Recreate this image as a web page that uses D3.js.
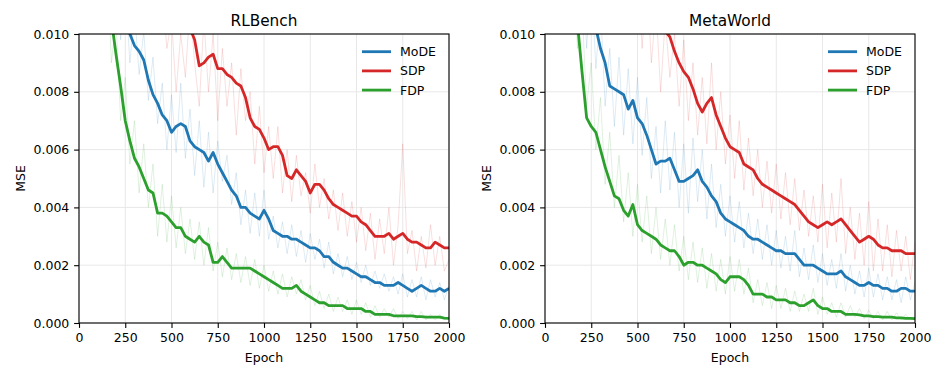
<!DOCTYPE html>
<html>
<head>
<meta charset="utf-8">
<script src="https://cdn.jsdelivr.net/npm/d3@7"></script>
<style>
body { margin: 0; background: #fff; }
text { font-family: "DejaVu Sans", sans-serif; fill: #000; }
</style>
</head>
<body>
<div id="view"></div>
<script>
var width = 947, height = 379;

// x grid of the curves, one point every 25 epochs
var epochs = d3.range(0, 2001, 25);
var seriesNames = ["MoDE", "SDP", "FDP"];
var colors = ["#1f77b4", "#d62728", "#2ca02c"];
var xTicks = [0, 250, 500, 750, 1000, 1250, 1500, 1750, 2000];
var yTicks = [0, 0.002, 0.004, 0.006, 0.008, 0.010];

// RLBench, smoothed
var rlbMode = [
	0.0165,0.0158,0.0150,0.0143,0.0136,0.0129,0.0123,0.0117,0.0112,0.0107,
	0.0103,0.0100,0.0096,0.0094,0.0091,0.0084,0.0079,0.0076,0.0072,0.0070,
	0.0066,0.0068,0.0069,0.0068,0.0063,0.0061,0.0060,0.0059,0.0056,0.0059,
	0.0055,0.0052,0.0049,0.0046,0.0044,0.0040,0.0040,0.0038,0.0037,0.0036,
	0.0039,0.0036,0.0032,0.0031,0.0030,0.0030,0.0029,0.0029,0.0028,0.0027,
	0.0026,0.0026,0.0025,0.0023,0.0023,0.0021,0.0020,0.0019,0.0019,0.0018,
	0.0017,0.0016,0.0016,0.0015,0.0014,0.0014,0.0013,0.0013,0.0013,0.0014,
	0.0013,0.0012,0.0011,0.0012,0.0013,0.0012,0.0011,0.0011,0.0012,0.0011,
	0.0012];
var rlbSdp = [
	0.0195,0.0190,0.0185,0.0180,0.0175,0.0170,0.0165,0.0160,0.0155,0.0150,
	0.0146,0.0142,0.0138,0.0134,0.0130,0.0126,0.0122,0.0119,0.0116,0.0113,
	0.0111,0.0109,0.0107,0.0105,0.0102,0.0098,0.0089,0.0090,0.0092,0.0093,
	0.0088,0.0088,0.0086,0.0085,0.0083,0.0082,0.0078,0.0071,0.0068,0.0067,
	0.0064,0.0060,0.0061,0.0061,0.0058,0.0051,0.0050,0.0053,0.0051,0.0049,
	0.0045,0.0048,0.0048,0.0046,0.0043,0.0041,0.0040,0.0039,0.0038,0.0037,
	0.0037,0.0035,0.0034,0.0032,0.0030,0.0030,0.0030,0.0031,0.0029,0.0030,
	0.0031,0.0029,0.0028,0.0028,0.0027,0.0026,0.0026,0.0028,0.0027,0.0026,
	0.0026];
var rlbFdp = [
	0.0180,0.0172,0.0163,0.0152,0.0140,0.0128,0.0116,0.0105,0.0093,0.0082,
	0.0070,0.0063,0.0057,0.0054,0.0050,0.0046,0.0045,0.0038,0.0038,0.0037,
	0.0035,0.0033,0.0033,0.0030,0.0029,0.0028,0.0030,0.0028,0.0027,0.0021,
	0.0021,0.0023,0.0021,0.0019,0.0019,0.0019,0.0019,0.0019,0.0018,0.0017,
	0.0016,0.0015,0.0014,0.0013,0.0012,0.0012,0.0012,0.0013,0.0011,0.0010,
	0.0009,0.0008,0.0007,0.0007,0.0006,0.0006,0.0006,0.0006,0.0005,0.0005,
	0.0005,0.0005,0.0004,0.0004,0.0003,0.0003,0.0003,0.0003,0.00025,0.00025,
	0.00025,0.00025,0.00025,0.00022,0.00022,0.0002,0.0002,0.0002,0.0002,0.00017,
	0.00016];

// RLBench, raw (faint)
var rlbModeRaw = [
	0.0180,0.0150,0.0168,0.0130,0.0152,0.0118,0.0138,0.0110,0.0125,0.0098,
	0.0117,0.0090,0.0108,0.0086,0.0101,0.0077,0.0092,0.0069,0.0083,0.0060,
	0.0079,0.0059,0.0083,0.0057,0.0074,0.0051,0.0070,0.0047,0.0066,0.0045,
	0.0063,0.0049,0.0058,0.0041,0.0052,0.0034,0.0046,0.0031,0.0045,0.0030,
	0.0046,0.0029,0.0037,0.0026,0.0035,0.0024,0.0034,0.0023,0.0032,0.0021,
	0.0031,0.0022,0.0029,0.0019,0.0028,0.0017,0.0024,0.0016,0.0023,0.0015,
	0.0021,0.0014,0.0020,0.0013,0.0018,0.0012,0.0017,0.0011,0.0016,0.0010,
	0.0017,0.0009,0.0015,0.0009,0.0016,0.0008,0.0015,0.0009,0.0014,0.0008,
	0.0013];
var rlbSdpRaw = [
	0.0210,0.0180,0.0200,0.0170,0.0190,0.0160,0.0180,0.0150,0.0170,0.0140,
	0.0160,0.0130,0.0150,0.0120,0.0140,0.0110,0.0130,0.0100,0.0115,0.0095,
	0.0105,0.0080,0.0100,0.0085,0.0110,0.0090,0.0075,0.0105,0.0080,0.0100,
	0.0070,0.0095,0.0075,0.0090,0.0065,0.0088,0.0070,0.0080,0.0055,0.0075,
	0.0052,0.0068,0.0050,0.0068,0.0045,0.0060,0.0042,0.0058,0.0044,0.0052,
	0.0038,0.0055,0.0040,0.0050,0.0036,0.0046,0.0032,0.0045,0.0030,0.0042,
	0.0028,0.0040,0.0025,0.0038,0.0022,0.0036,0.0024,0.0040,0.0020,0.0034,
	0.0062,0.0024,0.0032,0.0018,0.0030,0.0019,0.0034,0.0020,0.0030,0.0018,
	0.0022];
var rlbFdpRaw = [
	0.0190,0.0160,0.0175,0.0140,0.0150,0.0110,0.0130,0.0090,0.0105,0.0070,
	0.0085,0.0055,0.0070,0.0045,0.0062,0.0040,0.0055,0.0030,0.0048,0.0028,
	0.0044,0.0026,0.0040,0.0024,0.0036,0.0022,0.0035,0.0020,0.0033,0.0018,
	0.0028,0.0016,0.0026,0.0015,0.0024,0.0014,0.0023,0.0013,0.0022,0.0012,
	0.0020,0.0011,0.0018,0.0010,0.0017,0.0009,0.0016,0.0010,0.0015,0.0008,
	0.0013,0.0006,0.0011,0.0005,0.0010,0.0004,0.0009,0.0004,0.0008,0.0003,
	0.0008,0.0003,0.0007,0.0002,0.0006,0.0002,0.0005,0.0002,0.0005,0.00015,
	0.0004,0.00015,0.0004,0.0001,0.0004,0.0001,0.0003,0.0001,0.0003,0.0001,
	0.00025];

// MetaWorld, smoothed
var mwMode = [
	0.0175,0.0168,0.0160,0.0152,0.0145,0.0138,0.0131,0.0124,0.0118,0.0112,
	0.0107,0.0102,0.0095,0.0090,0.0082,0.0081,0.0080,0.0079,0.0074,0.0077,
	0.0071,0.0069,0.0065,0.0060,0.0055,0.0056,0.0056,0.0057,0.0053,0.0049,
	0.0049,0.0050,0.0051,0.0053,0.0049,0.0047,0.0044,0.0042,0.0038,0.0036,
	0.0035,0.0034,0.0033,0.0032,0.0030,0.0029,0.0029,0.0028,0.0027,0.0026,
	0.0025,0.0025,0.0024,0.0024,0.0024,0.0022,0.0020,0.0020,0.0020,0.0019,
	0.0018,0.0017,0.0017,0.0017,0.0018,0.0016,0.0015,0.0014,0.0013,0.0013,
	0.0014,0.0013,0.0013,0.0012,0.0012,0.0011,0.0011,0.0012,0.0012,0.0011,
	0.0011];
var mwSdp = [
	0.0210,0.0204,0.0198,0.0192,0.0186,0.0180,0.0174,0.0168,0.0162,0.0157,
	0.0152,0.0147,0.0142,0.0138,0.0134,0.0130,0.0126,0.0123,0.0120,0.0117,
	0.0114,0.0112,0.0110,0.0108,0.0106,0.0104,0.0101,0.0099,0.0094,0.0090,
	0.0087,0.0085,0.0081,0.0076,0.0073,0.0076,0.0078,0.0072,0.0068,0.0064,
	0.0061,0.0060,0.0059,0.0055,0.0054,0.0053,0.0050,0.0048,0.0047,0.0046,
	0.0045,0.0044,0.0043,0.0042,0.0041,0.0039,0.0037,0.0035,0.0034,0.0033,
	0.0034,0.0035,0.0034,0.0035,0.0036,0.0034,0.0032,0.0030,0.0028,0.0029,
	0.0030,0.0029,0.0027,0.0026,0.0026,0.0025,0.0025,0.0025,0.0024,0.0024,
	0.0024];
var mwFdp = [
	0.0185,0.0177,0.0168,0.0158,0.0147,0.0135,0.0122,0.0104,0.0087,0.0071,
	0.0068,0.0066,0.0060,0.0054,0.0049,0.0044,0.0043,0.0039,0.0037,0.0041,
	0.0034,0.0032,0.0031,0.0030,0.0029,0.0027,0.0026,0.0025,0.0025,0.0023,
	0.0020,0.0021,0.0021,0.0020,0.0020,0.0019,0.0018,0.0017,0.0015,0.0014,
	0.0016,0.0016,0.0016,0.0015,0.0013,0.0010,0.0010,0.0010,0.0009,0.0009,
	0.0008,0.0008,0.0008,0.0007,0.0007,0.0006,0.0006,0.0007,0.0008,0.0006,
	0.0005,0.0005,0.0004,0.0004,0.0004,0.0003,0.0003,0.0003,0.00028,0.00025,
	0.00025,0.00022,0.00022,0.0002,0.0002,0.0002,0.00018,0.00018,0.00016,0.00016,
	0.00015];

// MetaWorld, raw (faint)
var mwModeRaw = [
	0.0190,0.0160,0.0175,0.0140,0.0160,0.0125,0.0145,0.0110,0.0130,0.0095,
	0.0120,0.0088,0.0110,0.0075,0.0095,0.0068,0.0092,0.0065,0.0088,0.0062,
	0.0085,0.0058,0.0078,0.0050,0.0068,0.0045,0.0070,0.0046,0.0066,0.0040,
	0.0062,0.0038,0.0064,0.0042,0.0060,0.0036,0.0055,0.0033,0.0048,0.0030,
	0.0044,0.0028,0.0042,0.0026,0.0038,0.0024,0.0036,0.0022,0.0034,0.0020,
	0.0032,0.0019,0.0030,0.0018,0.0032,0.0016,0.0026,0.0015,0.0027,0.0014,
	0.0024,0.0013,0.0022,0.0012,0.0024,0.0011,0.0020,0.0010,0.0018,0.0009,
	0.0019,0.0009,0.0017,0.0008,0.0016,0.0008,0.0015,0.0007,0.0016,0.0008,
	0.0014];
var mwSdpRaw = [
	0.0225,0.0195,0.0215,0.0185,0.0200,0.0170,0.0190,0.0160,0.0175,0.0150,
	0.0165,0.0140,0.0155,0.0130,0.0145,0.0120,0.0140,0.0115,0.0130,0.0105,
	0.0125,0.0095,0.0120,0.0090,0.0110,0.0080,0.0105,0.0085,0.0100,0.0075,
	0.0098,0.0070,0.0090,0.0065,0.0085,0.0062,0.0090,0.0060,0.0080,0.0055,
	0.0072,0.0050,0.0070,0.0046,0.0064,0.0044,0.0060,0.0040,0.0056,0.0038,
	0.0055,0.0036,0.0052,0.0034,0.0050,0.0032,0.0046,0.0030,0.0044,0.0028,
	0.0048,0.0026,0.0045,0.0028,0.0050,0.0024,0.0040,0.0022,0.0038,0.0020,
	0.0042,0.0018,0.0036,0.0018,0.0034,0.0016,0.0032,0.0018,0.0030,0.0015,
	0.0028];
var mwFdpRaw = [
	0.0200,0.0165,0.0185,0.0140,0.0160,0.0120,0.0140,0.0095,0.0110,0.0075,
	0.0090,0.0060,0.0078,0.0048,0.0066,0.0040,0.0058,0.0035,0.0052,0.0030,
	0.0048,0.0028,0.0044,0.0024,0.0040,0.0022,0.0036,0.0020,0.0034,0.0018,
	0.0030,0.0015,0.0028,0.0014,0.0026,0.0012,0.0024,0.0011,0.0022,0.0010,
	0.0023,0.0011,0.0022,0.0010,0.0019,0.0007,0.0015,0.0006,0.0014,0.0005,
	0.0013,0.0005,0.0012,0.0004,0.0011,0.0004,0.0010,0.0004,0.0012,0.0003,
	0.0009,0.0003,0.0007,0.0002,0.0007,0.0002,0.0006,0.0002,0.0005,0.00015,
	0.00045,0.00015,0.0004,0.0001,0.0004,0.0001,0.00035,0.0001,0.0003,0.0001,
	0.00025];

var panels = [
	{ title: "RLBench", left: 79, smooth: [rlbMode, rlbSdp, rlbFdp], raw: [rlbModeRaw, rlbSdpRaw, rlbFdpRaw] },
	{ title: "MetaWorld", left: 545, smooth: [mwMode, mwSdp, mwFdp], raw: [mwModeRaw, mwSdpRaw, mwFdpRaw] }
];

var plotW = 370, plotTop = 34, plotBottom = 323;

var svg = d3.select("#view").append("svg")
	.attr("width", width)
	.attr("height", height);

panels.forEach(function(p, pi) {
	var x = d3.scaleLinear().domain([0, 2000]).range([p.left, p.left + plotW]);
	var y = d3.scaleLinear().domain([0, 0.010]).range([plotBottom, plotTop]);
	var g = svg.append("g");

	// grid
	g.selectAll(".gx").data(xTicks).enter().append("line")
		.attr("x1", function(d) { return x(d); }).attr("x2", function(d) { return x(d); })
		.attr("y1", plotTop).attr("y2", plotBottom)
		.style("stroke", "#e8e8e8").style("stroke-width", 1);
	g.selectAll(".gy").data(yTicks).enter().append("line")
		.attr("y1", function(d) { return y(d); }).attr("y2", function(d) { return y(d); })
		.attr("x1", p.left).attr("x2", p.left + plotW)
		.style("stroke", "#e8e8e8").style("stroke-width", 1);

	svg.append("clipPath").attr("id", "clip" + pi)
		.append("rect")
		.attr("x", p.left).attr("y", plotTop)
		.attr("width", plotW).attr("height", plotBottom - plotTop);

	var line = d3.line()
		.x(function(d, i) { return x(epochs[i]); })
		.y(function(d) { return y(d); });

	var plot = g.append("g").attr("clip-path", "url(#clip" + pi + ")");
	[0, 1, 2].forEach(function(k) {
		plot.append("path").datum(p.raw[k])
			.attr("d", line)
			.style("fill", "none")
			.style("stroke", colors[k])
			.style("stroke-opacity", 0.15)
			.style("stroke-width", 1);
		plot.append("path").datum(p.smooth[k])
			.attr("d", line)
			.style("fill", "none")
			.style("stroke", colors[k])
			.style("stroke-width", 2.8)
			.style("stroke-linejoin", "round");
	});

	// axes
	var ax = g.append("g").attr("transform", "translate(0," + plotBottom + ")")
		.call(d3.axisBottom(x).tickValues(xTicks).tickFormat(d3.format("d")).tickSize(4.9).tickPadding(5.5));
	var ay = g.append("g").attr("transform", "translate(" + p.left + ",0)")
		.call(d3.axisLeft(y).tickValues(yTicks).tickFormat(d3.format(".3f")).tickSize(4.9).tickPadding(4.8));
	[ax, ay].forEach(function(a) {
		a.select(".domain").remove();
		a.selectAll("line").style("stroke", "#000").style("stroke-width", 1.1);
		a.selectAll("text").attr("font-family", "DejaVu Sans").attr("font-size", 12.5).style("fill", "#000");
	});

	// frame
	g.append("rect")
		.attr("x", p.left).attr("y", plotTop)
		.attr("width", plotW).attr("height", plotBottom - plotTop)
		.style("fill", "none").style("stroke", "#000").style("stroke-width", 1.1);

	g.append("text")
		.attr("x", p.left + plotW / 2).attr("y", 26)
		.attr("text-anchor", "middle").attr("font-size", 15.3)
		.text(p.title);
	g.append("text")
		.attr("x", p.left + plotW / 2).attr("y", 361.5)
		.attr("text-anchor", "middle").attr("font-size", 12.5)
		.text("Epoch");
	g.append("text")
		.attr("transform", "translate(" + (p.left - 54.4) + "," + ((plotTop + plotBottom) / 2) + ") rotate(-90)")
		.attr("text-anchor", "middle").attr("font-size", 12.5)
		.text("MSE");

	// legend
	var lg = g.append("g").attr("transform", "translate(" + (p.left + plotW) + ",0)");
	seriesNames.forEach(function(name, k) {
		var cy = 51.7 + k * 19.2;
		lg.append("line")
			.attr("x1", -87).attr("x2", -58).attr("y1", cy).attr("y2", cy)
			.style("stroke", colors[k]).style("stroke-width", 2.8);
		lg.append("text")
			.attr("x", -49).attr("y", cy + 4.5)
			.attr("font-size", 12.5)
			.text(name);
	});
});
</script>
</body>
</html>
